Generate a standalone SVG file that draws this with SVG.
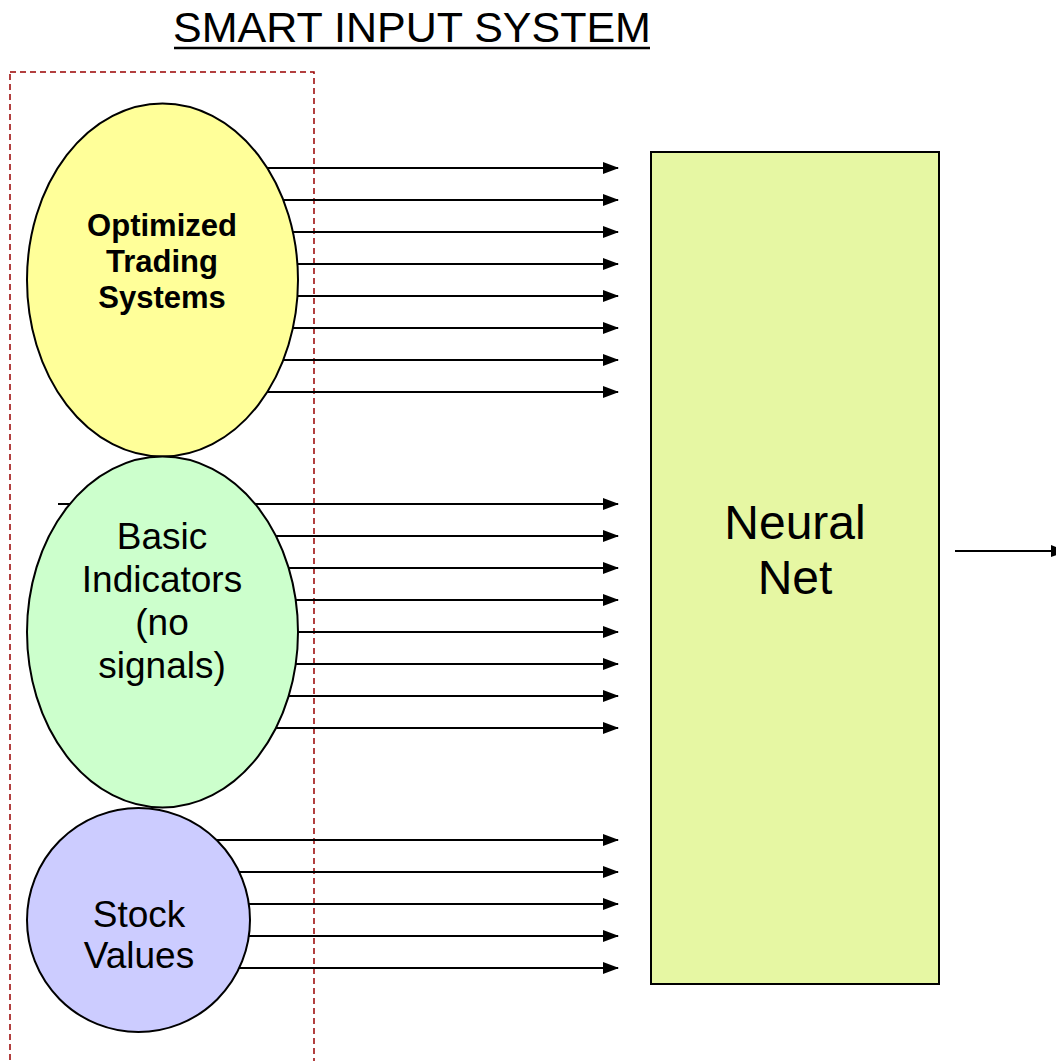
<svg xmlns="http://www.w3.org/2000/svg" width="1056" height="1061" viewBox="0 0 1056 1061" font-family="Arial, 'Liberation Sans', Helvetica, sans-serif">
<style>
.t{fill:#000;text-anchor:middle}
.c line{stroke:#000;stroke-width:2;marker-end:url(#ah)}
.n{stroke:#000;stroke-width:2}
</style>
<defs>
<marker id="ah" markerWidth="16" markerHeight="12" refX="15" refY="6" orient="auto" markerUnits="userSpaceOnUse">
<path d="M0,0 L16,6 L0,12 Z" fill="#000"/>
</marker>
</defs>
<rect width="1056" height="1061" fill="#fff"/>
<g id="title">
<text class="t" x="412" y="42" font-size="43">SMART INPUT SYSTEM</text>
<line x1="174" y1="48" x2="650" y2="48" stroke="#000" stroke-width="2.5"/>
</g>
<g id="group-box">
<rect x="10" y="72" width="304" height="1000" fill="none" stroke="#990000" stroke-width="1.5" stroke-dasharray="6,4"/>
</g>
<g id="connectors" class="c">
<line x1="58" y1="168" x2="618" y2="168"/>
<line x1="58" y1="200" x2="618" y2="200"/>
<line x1="58" y1="232" x2="618" y2="232"/>
<line x1="58" y1="264" x2="618" y2="264"/>
<line x1="58" y1="296" x2="618" y2="296"/>
<line x1="58" y1="328" x2="618" y2="328"/>
<line x1="58" y1="360" x2="618" y2="360"/>
<line x1="58" y1="392" x2="618" y2="392"/>
<line x1="58" y1="504" x2="618" y2="504"/>
<line x1="58" y1="536" x2="618" y2="536"/>
<line x1="58" y1="568" x2="618" y2="568"/>
<line x1="58" y1="600" x2="618" y2="600"/>
<line x1="58" y1="632" x2="618" y2="632"/>
<line x1="58" y1="664" x2="618" y2="664"/>
<line x1="58" y1="696" x2="618" y2="696"/>
<line x1="58" y1="728" x2="618" y2="728"/>
<line x1="100" y1="840" x2="618" y2="840"/>
<line x1="100" y1="872" x2="618" y2="872"/>
<line x1="100" y1="904" x2="618" y2="904"/>
<line x1="100" y1="936" x2="618" y2="936"/>
<line x1="100" y1="968" x2="618" y2="968"/>
<line x1="955" y1="551" x2="1066" y2="551"/>
</g>
<g id="optimized-trading-systems">
<ellipse class="n" cx="162.5" cy="280" rx="135.5" ry="176.5" fill="#ffff99"/>
<text class="t" x="162" y="236" font-size="31" font-weight="bold">Optimized</text>
<text class="t" x="162" y="272" font-size="31" font-weight="bold">Trading</text>
<text class="t" x="162" y="308" font-size="31" font-weight="bold">Systems</text>
</g>
<g id="basic-indicators">
<ellipse class="n" cx="162.5" cy="632" rx="135.5" ry="175.5" fill="#ccffcc"/>
<text class="t" x="162" y="549" font-size="37">Basic</text>
<text class="t" x="162" y="592" font-size="37">Indicators</text>
<text class="t" x="162" y="635" font-size="37">(no</text>
<text class="t" x="162" y="678" font-size="37">signals)</text>
</g>
<g id="stock-values">
<ellipse class="n" cx="138.5" cy="920" rx="111.5" ry="112" fill="#ccccff"/>
<text class="t" x="139" y="927" font-size="37">Stock</text>
<text class="t" x="139" y="968" font-size="37">Values</text>
</g>
<g id="neural-net">
<rect class="n" x="651" y="152" width="288" height="832" fill="#e6f7a3"/>
<text class="t" x="795" y="539" font-size="48">Neural</text>
<text class="t" x="795" y="594" font-size="48">Net</text>
</g>
</svg>
